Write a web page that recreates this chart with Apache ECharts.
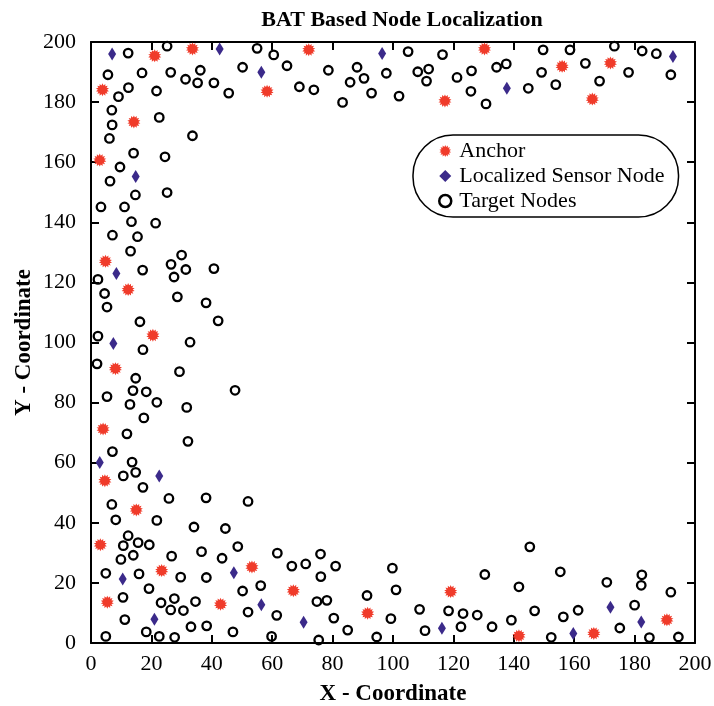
<!DOCTYPE html>
<html>
<head>
<meta charset="utf-8">
<script src="https://cdn.jsdelivr.net/npm/echarts@6/dist/echarts.min.js"></script>
<style>html,body{margin:0;padding:0;background:#fff;}#c{width:714px;height:706px;}</style>
</head>
<body>
<div id="c"></div>
<script>
const titleText = 'BAT Based Node Localization';
const xName = 'X - Coordinate';
const yName = 'Y - Coordinate';
const seriesNames = ['Anchor', 'Localized Sensor Node', 'Target Nodes'];

const anchorPts = [
[21.1,195.4],[33.6,197.7],[72.1,197.4],[3.8,184.1],[58.3,183.6],[14.2,173.4],[2.9,160.7],
[130.3,197.7],[117.2,180.4],[156,191.9],[166,181],[172,193],[4.8,127],[12.3,117.6],
[20.5,102.4],[8.1,91.3],[4,71.2],[4.6,54],[15,44.3],[3.1,32.7],[53.3,25.3],[23.4,24.1],
[67,17.4],[5.4,13.6],[42.9,12.9],[91.6,9.9],[119.1,17.1],[141.7,2.4],[166.5,3.2],[190.7,7.7]
];

const sensorPts = [
[7,196],[42.6,197.7],[96.4,196.2],[56.4,189.9],[14.8,155.2],[192.7,195.2],[137.7,184.6],
[8.4,123],[7.4,99.7],[2.9,60.1],[22.6,55.6],[10.5,21.3],[47.3,23.4],[56.4,12.7],[21,7.9],
[70.4,6.9],[116.2,4.9],[159.7,3.2],[172,11.9],[182.2,7]
];

const targetTop = [
[12.3,196.3],[25.2,198.6],[55,197.9],[60.5,195.7],[5.6,189.1],[16.9,189.7],[26.4,189.9],
[31.3,187.6],[36.2,190.6],[35.3,186.4],[40.7,186.4],[45.6,183],[50.2,191.6],[64.9,192.1],
[69,185.1],[73.8,184.1],[78.6,190.6],[83.3,179.9],[85.8,186.6],[88.1,191.6],[90.4,187.9],
[92.9,183],[97.8,189.6],[102,182],[9.1,181.8],[12.4,184.8],[21.7,183.7],[6.9,177.3],
[22.6,174.9],[7,172.4],[6.1,167.9],[33.6,168.8],[14.1,163],[24.5,161.8],[9.6,158.4],
[6.3,153.7],[14.7,149.1],[25.2,149.9],[3.3,145.1],[11.1,145.1],
[105,196.8],[116.4,195.8],[149.7,197.4],[158.6,197.4],[173.3,198.6],[182.5,197],[187.2,196.1],
[108.2,190.1],[111.8,191],[111.1,187],[121.2,188.2],[126,190.4],[125.8,183.6],[134.3,191.6],
[137.5,192.7],[130.8,179.4],[144.8,184.6],[149.2,189.9],[153.9,185.8],[163.7,192.9],
[168.4,187],[178,189.9],[192,189.1]
];

const targetLeft = [
[13.4,140.2],[21.4,139.7],[7.1,135.7],[15.4,135.2],[13.1,130.4],[30,129.1],[26.5,126],
[17.1,124.1],[31.4,124.3],[40.7,124.6],[27.5,121.8],[2.3,121],[4.5,116.3],[28.6,115.2],
[38.1,113.2],[5.3,111.8],[16.2,106.9],[42.1,107.2],[2.3,102.1],[32.8,100.1],[17.2,97.6],
[2,92.9],[29.3,90.3],[14.8,88.1],[13.9,84],[18.3,83.6],[47.7,84.1],[5.3,82],[12.9,79.4],
[21.8,80.1],[31.7,78.4],[17.5,74.9]
];

const targetBottom = [
[11.9,69.6],[32.1,67.1],[7.1,63.7],[13.6,60.2],[14.8,56.8],[10.7,55.6],[17.2,51.8],[6.9,46.1],
[25.8,48.1],[38.1,48.3],[52,47.1],[8.2,41],[21.8,40.8],[34.1,38.6],[44.5,38.1],[12.3,35.7],
[10.7,32.4],[15.6,33.4],[19.3,32.7],[14,29.2],[9.9,27.8],[26.7,28.9],[36.6,30.4],[43.4,28.2],
[48.6,32.1],[61.7,29.9],[76,29.6],[66.5,25.6],[71.1,26.3],[81,25.6],[99.8,24.9],[4.9,23.2],
[15.9,23],[29.7,21.9],[38.2,21.8],[76.1,22.1],[19.2,18.1],[50.2,17.3],[56.2,19.1],[101,17.7],
[10.6,15.2],[23.2,13.4],[27.6,14.8],[26.4,11],[30.6,10.8],[34.6,13.8],[52,10.3],[61.5,9.2],
[74.8,13.8],[78.1,14.2],[91.4,15.8],[11.2,7.8],[33.1,5.4],[38.3,5.7],[80.4,8.3],[99.3,8.1],
[4.9,2.2],[18.3,3.7],[22.6,2.2],[27.7,1.9],[47,3.7],[59.8,2.2],[75.4,1],[85,4.3],[94.6,2],
[110.6,4.1],[108.8,11.2],[118.4,10.7],[123.2,9.8],[122.5,5.4],[127.9,9.3],[130.4,22.8],
[132.8,5.4],[139.2,7.6],[141.7,18.7],[145.3,32],[146.9,10.7],[152.4,1.9],[155.4,23.7],
[156.4,8.7],[161.3,10.9],[170.8,20.2],[175.1,5],[180,12.6],[182.4,22.7],[182.2,19.2],
[184.9,1.8],[192,16.9],[194.5,2]
];

const xTicks = {min: 0, max: 200, interval: 20};
const yTicks = {min: 0, max: 200, interval: 20};

function starPath(n, r1, r2) {
  let s = 'path://';
  for (let i = 0; i < 2 * n; i++) {
    const a = i * Math.PI / n - Math.PI / 2;
    const r = (i % 2) ? r2 : r1;
    s += (i ? 'L' : 'M') + (50 + r * Math.cos(a)).toFixed(2) + ' ' + (50 + r * Math.sin(a)).toFixed(2);
  }
  return s + 'Z';
}
const STAR = starPath(14, 50, 34);

const FONT = 'Liberation Serif, Times New Roman, serif';
const RED = '#f03b2a';
const PURPLE = '#3b2a8a';

const chart = echarts.init(document.getElementById('c'), null, {renderer: 'canvas'});

function axisCommon(extra) {
  return Object.assign({
    type: 'value',
    axisLine: {show: true, onZero: false, lineStyle: {color: '#000', width: 2}},
    axisTick: {show: true, inside: true, length: 8, lineStyle: {color: '#000', width: 2}},
    splitLine: {show: false}
  }, extra);
}

chart.setOption({
  animation: false,
  backgroundColor: '#fff',
  title: {
    text: titleText,
    left: 402, top: 9, textAlign: 'center', padding: 0,
    textStyle: {fontFamily: FONT, fontWeight: 'bold', fontSize: 22, color: '#000'}
  },
  grid: {left: 91, top: 42, right: 19, bottom: 63, containLabel: false, outerBoundsMode: 'none'},
  legend: {
    orient: 'vertical',
    left: 413, top: 135,
    padding: [5, 14, 5, 25],
    itemGap: 3,
    itemWidth: 12, itemHeight: 12,
    borderColor: '#000', borderWidth: 1.5, borderRadius: 40,
    backgroundColor: '#fff',
    textStyle: {fontFamily: FONT, fontSize: 22, color: '#000', lineHeight: 21, padding: [0, 0, 0, 3]},
    data: [
      {name: seriesNames[0], icon: STAR, itemStyle: {color: RED}},
      {name: seriesNames[1], icon: 'diamond', itemStyle: {color: PURPLE}},
      {name: seriesNames[2], icon: 'circle', itemStyle: {color: 'rgba(0,0,0,0)', borderColor: '#000', borderWidth: 2.5}}
    ]
  },
  xAxis: [
    axisCommon(Object.assign({}, xTicks, {
      position: 'bottom',
      axisLabel: {fontFamily: FONT, fontSize: 22, color: '#000', margin: 10},
      name: xName, nameLocation: 'middle', nameGap: 40, nameMoveOverlap: false,
      nameTextStyle: {fontFamily: FONT, fontWeight: 'bold', fontSize: 23, color: '#000'}
    })),
    axisCommon(Object.assign({}, xTicks, {position: 'top', axisLabel: {show: false}}))
  ],
  yAxis: [
    axisCommon(Object.assign({}, yTicks, {
      position: 'left',
      axisLabel: {fontFamily: FONT, fontSize: 22, color: '#000', margin: 15},
      name: yName, nameLocation: 'middle', nameGap: 55, nameMoveOverlap: false,
      nameTextStyle: {fontFamily: FONT, fontWeight: 'bold', fontSize: 23, color: '#000'}
    })),
    axisCommon(Object.assign({}, yTicks, {position: 'right', axisLabel: {show: false}}))
  ],
  series: [
    {
      name: seriesNames[2], type: 'scatter', symbol: 'circle', symbolSize: 8.5,
      data: targetTop.concat(targetLeft, targetBottom),
      itemStyle: {color: 'rgba(0,0,0,0)', borderColor: '#000', borderWidth: 2.3, opacity: 1},
      emphasis: {disabled: true}
    },
    {
      name: seriesNames[0], type: 'scatter', symbol: STAR, symbolSize: 13,
      data: anchorPts,
      itemStyle: {color: RED, opacity: 1},
      emphasis: {disabled: true}
    },
    {
      name: seriesNames[1], type: 'scatter', symbol: 'diamond', symbolSize: [8, 13],
      data: sensorPts,
      itemStyle: {color: PURPLE, opacity: 1},
      emphasis: {disabled: true}
    }
  ]
});
</script>
</body>
</html>
